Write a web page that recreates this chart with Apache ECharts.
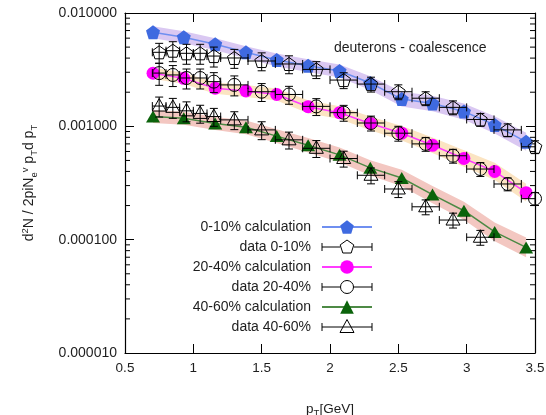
<!DOCTYPE html>
<html><head><meta charset="utf-8">
<script src="https://cdn.jsdelivr.net/npm/echarts@6/dist/echarts.min.js"></script>
<style>html,body{margin:0;padding:0;background:#fff}#c{width:546px;height:415px}</style>
</head><body><div id="c"></div>
<script>
// ---------- data ----------
const calcPt = [0.705,0.93,1.16,1.385,1.61,1.84,2.07,2.295,2.525,2.75,2.98,3.205,3.435];
const calc0_10  = [0.00676,0.00611,0.00530,0.00450,0.00385,0.00343,0.00308,0.00241,0.00174,0.00159,0.00135,0.00103,0.00073];
const calc20_40 = [0.00294,0.00265,0.00217,0.00205,0.00191,0.00149,0.00132,0.00106,0.00087,0.00068,0.00052,0.00040,0.00026];
const calc40_60 = [0.00122,0.00118,0.00106,0.00098,0.00082,0.00068,0.00056,0.00043,0.00035,0.00025,0.00018,0.000117,0.0000855];
// relative half-width of the theory bands
const band0_10  = [0.13,0.13,0.13,0.13,0.14,0.14,0.14,0.15,0.16,0.17,0.18,0.19,0.20];
const band20_40 = [0.12,0.12,0.12,0.13,0.13,0.14,0.14,0.15,0.16,0.17,0.18,0.19,0.20];
const band40_60 = [0.14,0.14,0.14,0.15,0.15,0.16,0.16,0.17,0.18,0.19,0.20,0.21,0.22];

const dataPt  = [0.75,0.85,0.95,1.05,1.15,1.3,1.5,1.7,1.9,2.1,2.3,2.5,2.7,2.9,3.1,3.3,3.5];
const dataPtErr = [0.05,0.05,0.05,0.05,0.05,0.1,0.1,0.1,0.1,0.1,0.1,0.1,0.1,0.1,0.1,0.1,0.1];
const data0_10  = [0.00450,0.00465,0.00441,0.00441,0.00417,0.00401,0.00377,0.00355,0.00318,0.00256,0.00236,0.00202,0.00177,0.00147,0.00115,0.00093,0.00066];
const err0_10   = [0.20,0.20,0.20,0.20,0.20,0.19,0.18,0.18,0.17,0.16,0.15,0.15,0.14,0.14,0.13,0.13,0.13];
const data20_40 = [0.00295,0.00284,0.00267,0.00267,0.00248,0.00232,0.00202,0.00191,0.00150,0.00132,0.00107,0.00087,0.00070,0.00055,0.00042,0.00031,0.00023];
const err20_40  = [0.22,0.21,0.20,0.20,0.20,0.20,0.18,0.18,0.17,0.16,0.15,0.15,0.14,0.14,0.14,0.13,0.13];
const data40_60 = [0.00151,0.00147,0.00137,0.00130,0.00122,0.00114,0.00093,0.00076,0.00064,0.00052,0.00037,0.00028,0.000195,0.000149,0.000105];
const err40_60  = [0.20,0.20,0.20,0.18,0.18,0.18,0.18,0.17,0.17,0.16,0.16,0.16,0.15,0.15,0.15];

const xTicks = [0.5,1,1.5,2,2.5,3,3.5];
const yTicks = ['0.000010','0.000100','0.001000','0.010000'];
const minorMant = [2,3,4,5,6,7,8,9];
const minorDec = [1e-5,1e-4,1e-3];

// ---------- helpers ----------
const FONT = 'Liberation Sans, Arial, Helvetica, sans-serif';
const TXT = '#1e1e1e';
const PENT = 'path://M0,-1L0.951,-0.309L0.588,0.809L-0.588,0.809L-0.951,-0.309Z';

function pentPts(cx, cy, r) {
  const p = [];
  for (let k = 0; k < 5; k++) {
    const a = (-90 + 72 * k) * Math.PI / 180;
    p.push([cx + r * Math.cos(a), cy + r * Math.sin(a)]);
  }
  return p;
}
function markerShape(kind, cx, cy) {
  const st = {stroke: '#000', lineWidth: 1, fill: 'none'};
  if (kind === 'pent') return {type: 'polygon', shape: {points: pentPts(cx, cy + 0.7, 7.2)}, style: st};
  if (kind === 'circ') return {type: 'circle', shape: {cx: cx, cy: cy, r: 6.5}, style: st};
  return {type: 'polygon', shape: {points: [[cx, cy - 7.5], [cx + 7, cy + 5], [cx - 7, cy + 5]]}, style: st};
}
function errRender(kind) {
  return function (params, api) {
    const x = api.value(0), y = api.value(1), dx = api.value(2), r = api.value(3);
    const cs = params.coordSys;
    const c = api.coord([x, y]);
    const t = api.coord([x, y * (1 + r)]);
    const b = api.coord([x, y * (1 - r)]);
    let xl = api.coord([x - dx, y])[0], xr = api.coord([x + dx, y])[0];
    const clipL = xl < cs.x, clipR = xr > cs.x + cs.width;
    xl = Math.max(xl, cs.x); xr = Math.min(xr, cs.x + cs.width);
    const st = {stroke: '#000', lineWidth: 1};
    const cap = 4, ht = 4;
    const ch = [
      {type: 'line', shape: {x1: c[0], y1: t[1], x2: c[0], y2: b[1]}, style: st},
      {type: 'line', shape: {x1: c[0] - cap, y1: t[1], x2: c[0] + cap, y2: t[1]}, style: st},
      {type: 'line', shape: {x1: c[0] - cap, y1: b[1], x2: c[0] + cap, y2: b[1]}, style: st},
      {type: 'line', shape: {x1: xl, y1: c[1], x2: xr, y2: c[1]}, style: st}
    ];
    if (!clipL) ch.push({type: 'line', shape: {x1: xl, y1: c[1] - ht, x2: xl, y2: c[1] + ht}, style: st});
    if (!clipR) ch.push({type: 'line', shape: {x1: xr, y1: c[1] - ht, x2: xr, y2: c[1] + ht}, style: st});
    ch.push(markerShape(kind, c[0], c[1]));
    return {type: 'group', children: ch};
  };
}
function bandRender(vals, rel, color) {
  return function (params, api) {
    if (params.dataIndex !== 0) return null;
    const up = [], lo = [];
    for (let i = 0; i < calcPt.length; i++) {
      up.push(api.coord([calcPt[i], vals[i] * (1 + rel[i])]));
      lo.unshift(api.coord([calcPt[i], vals[i] / (1 + rel[i])]));
    }
    return {type: 'polygon', shape: {points: up.concat(lo)}, style: {fill: color}};
  };
}
const pairs = (xs, ys) => ys.map((v, i) => [xs[i], v]);
const errData = (ys, er) => ys.map((v, i) => [dataPt[i], v, dataPtErr[i], er[i]]);

const minorVals = [];
minorDec.forEach(d => minorMant.forEach(m => minorVals.push(m * d)));

// legend icons for data entries (50 x 17 box)
const iconBase = 'M0,0M50,17M0,4.5L0,12.5M50,4.5L50,12.5';
const iconPent = 'path://' + iconBase + 'M0,8.5L18,8.5M32,8.5L50,8.5M25,1.5L31.8,6.4L29.2,14.5L20.8,14.5L18.2,6.4Z';
const iconCirc = 'path://' + iconBase + 'M0,8.5L18.5,8.5M31.5,8.5L50,8.5M31.5,8.5A6.5,6.5,0,1,1,18.5,8.5A6.5,6.5,0,1,1,31.5,8.5Z';
const iconTri  = 'path://' + iconBase + 'M0,8.5L50,8.5M25,1L32,14L18,14Z';
const dataIconStyle = {color: 'rgba(0,0,0,0)', borderColor: '#000', borderWidth: 1};

const chart = echarts.init(document.getElementById('c'), null, {renderer: 'canvas'});
const tickStyle = {show: true, inside: true, length: 9, lineStyle: {color: '#000', width: 1}};
const lineAx = {show: true, lineStyle: {color: '#000', width: 1.2}};

chart.setOption({
  animation: false,
  backgroundColor: '#fff',
  textStyle: {fontFamily: FONT},
  title: {
    text: 'deuterons - coalescence', left: 329, top: 36,
    textStyle: {fontSize: 14, fontWeight: 'normal', color: TXT, fontFamily: FONT}
  },
  grid: {left: 125, right: 11, top: 13, bottom: 62, containLabel: false, outerBoundsMode: 'none'},
  legend: {
    orient: 'vertical', align: 'right', right: 173, top: 220, padding: 0,
    itemWidth: 50, itemHeight: 17, itemGap: 4,
    textStyle: {fontSize: 14, color: TXT, fontFamily: FONT, padding: [0, 6, 0, 0]},
    data: [
      {name: '0-10% calculation'},
      {name: 'data 0-10%', icon: iconPent, itemStyle: dataIconStyle},
      {name: '20-40% calculation'},
      {name: 'data 20-40%', icon: iconCirc, itemStyle: dataIconStyle},
      {name: '40-60% calculation'},
      {name: 'data 40-60%', icon: iconTri, itemStyle: dataIconStyle}
    ]
  },
  xAxis: [{
    type: 'value', min: xTicks[0], max: xTicks[xTicks.length - 1], interval: 0.5,
    axisLine: lineAx, axisTick: tickStyle, splitLine: {show: false},
    axisLabel: {fontSize: 13.5, color: TXT, margin: 8, fontFamily: FONT},
    name: 'p{sub|T}[GeV]', nameLocation: 'middle', nameGap: 47,
    nameTextStyle: {fontSize: 13.5, color: TXT, fontFamily: FONT, lineHeight: 18,
      rich: {sub: {fontSize: 9.5, verticalAlign: 'bottom', fontFamily: FONT, color: TXT}}}
  }, {
    type: 'value', position: 'top', min: xTicks[0], max: xTicks[xTicks.length - 1], interval: 0.5,
    axisLine: lineAx, axisTick: tickStyle, axisLabel: {show: false}, splitLine: {show: false}
  }],
  yAxis: [{
    type: 'log', logBase: 10, min: 1e-5, max: 1e-2,
    axisLine: lineAx, axisTick: tickStyle, splitLine: {show: false}, minorTick: {show: false},
    axisLabel: {fontSize: 14, color: TXT, margin: 8, fontFamily: FONT,
      formatter: v => yTicks[Math.round(Math.log10(v)) + 5]},
    name: 'd{sup|2}N / 2piN{sub|e}{sup|v} p{sub|T}d p{sub|T}', nameLocation: 'middle', nameGap: 86, nameRotate: 90,
    nameTextStyle: {fontSize: 14, color: TXT, fontFamily: FONT, lineHeight: 19,
      rich: {sup: {fontSize: 9.5, verticalAlign: 'top', fontFamily: FONT, color: TXT},
             sub: {fontSize: 9.5, verticalAlign: 'bottom', fontFamily: FONT, color: TXT}}}
  }, {
    type: 'log', logBase: 10, min: 1e-5, max: 1e-2, position: 'right',
    axisLine: lineAx, axisTick: tickStyle, axisLabel: {show: false}, splitLine: {show: false}
  }],
  series: [
    // minor log ticks (left and right)
    {type: 'custom', name: 'minor', silent: true, z: 1, data: minorVals.map(v => [xTicks[0], v]),
      renderItem: (params, api) => {
        const cs = params.coordSys; const y = api.coord([api.value(0), api.value(1)])[1];
        const st = {stroke: '#000', lineWidth: 1};
        return {type: 'group', children: [
          {type: 'line', shape: {x1: cs.x, y1: y, x2: cs.x + 5, y2: y}, style: st},
          {type: 'line', shape: {x1: cs.x + cs.width - 5, y1: y, x2: cs.x + cs.width, y2: y}, style: st}]};
      }},
    // bands
    {type: 'custom', name: 'band0', silent: true, z: 2, data: pairs(calcPt, calc0_10),
      renderItem: bandRender(calc0_10, band0_10, '#dac8f2')},
    {type: 'custom', name: 'band1', silent: true, z: 2, data: pairs(calcPt, calc20_40),
      renderItem: bandRender(calc20_40, band20_40, '#fbe4c2')},
    {type: 'custom', name: 'band2', silent: true, z: 2, data: pairs(calcPt, calc40_60),
      renderItem: bandRender(calc40_60, band40_60, '#f3c7c1')},
    // calculations
    {type: 'line', name: '0-10% calculation', z: 3, data: pairs(calcPt, calc0_10),
      symbol: PENT, symbolSize: 14, showAllSymbol: true,
      lineStyle: {color: '#6f8ff0', width: 1.5}, itemStyle: {color: '#3f6ae0'}},
    {type: 'line', name: '20-40% calculation', z: 3, data: pairs(calcPt, calc20_40),
      symbol: 'circle', symbolSize: 13, showAllSymbol: true,
      lineStyle: {color: '#ff3cff', width: 1.5}, itemStyle: {color: '#ff00ff'}},
    {type: 'line', name: '40-60% calculation', z: 3, data: pairs(calcPt, calc40_60),
      symbol: 'triangle', symbolSize: [14, 12], showAllSymbol: true,
      lineStyle: {color: '#4d8a45', width: 1.5}, itemStyle: {color: '#0b630b'}},
    // data
    {type: 'custom', name: 'data 0-10%', z: 4, data: errData(data0_10, err0_10), renderItem: errRender('pent')},
    {type: 'custom', name: 'data 20-40%', z: 4, data: errData(data20_40, err20_40), renderItem: errRender('circ')},
    {type: 'custom', name: 'data 40-60%', z: 4, data: errData(data40_60, err40_60), renderItem: errRender('tri')}
  ]
});
</script></body></html>
